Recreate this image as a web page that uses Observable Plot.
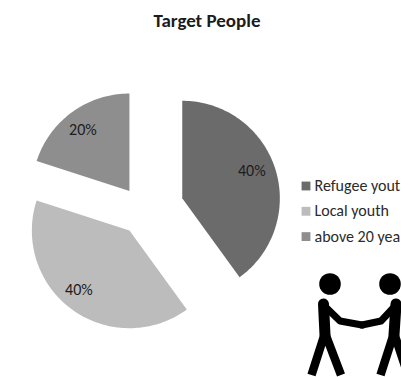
<!DOCTYPE html>
<html>
<head>
<meta charset="utf-8">
<script src="https://cdn.jsdelivr.net/npm/d3@7"></script>
<script src="https://cdn.jsdelivr.net/npm/@observablehq/plot@0.6"></script>
<style>
  html, body { margin: 0; padding: 0; background: #fff; }
  svg { display: block; }
</style>
</head>
<body>
<div id="chart"></div>
<script>
const title = "Target People";
const categories = ["Refugee yout", "Local youth", "above 20 yea"];
const shares = [40, 40, 20];
const explode = [0.414, 0.25, 0.25];
const greys = ["#6b6b6b", "#bcbcbc", "#8e8e8e"];

const width = 401, height = 377;
const fontFamily = "Carlito, Calibri, Lato, 'Open Sans', sans-serif";

// The pie lives in units of its own radius; these place that unit circle on the page.
const radius = 97.6, centerX = 143.3, centerY = 210.35;
const unitX = px => (px - centerX) / radius;
const unitY = py => (centerY - py) / radius;

const arcs = d3.pie().sort(null).value(d => d)(shares);

const polar = (angle, r) => [r * Math.sin(angle), r * Math.cos(angle)];

// Each wedge is a closed outline: tip, sampled rim, tip again.
const outlines = arcs.flatMap((a, i) => {
  const [ox, oy] = polar((a.startAngle + a.endAngle) / 2, explode[i]);
  const steps = Math.ceil((a.endAngle - a.startAngle) * 40);
  const rim = d3.range(steps + 1).map(k => polar(a.startAngle + (a.endAngle - a.startAngle) * k / steps, 1));
  return [[0, 0], ...rim, [0, 0]].map(([x, y]) => ({ category: categories[i], x: x + ox, y: y + oy }));
});

// Percent labels sit at a fixed depth in each wedge, with a small hand nudge in pixels.
const labelNudgeX = [-1, -7, -3];
const labelNudgeY = [-5, -1, -1];
const labels = arcs.map((a, i) => {
  const mid = (a.startAngle + a.endAngle) / 2;
  const [ox, oy] = polar(mid, explode[i] + 0.76);
  return { x: ox, y: oy, dx: labelNudgeX[i], dy: labelNudgeY[i], text: `${shares[i]}%` };
});

const legend = categories.map((category, i) => ({
  category,
  x: unitX(305.5),
  textX: unitX(314),
  y: unitY(185.5 + i * 25.3)
}));

// Two stick figures shaking hands, bottom right of the page.
function handshake() {
  const g = d3.create("svg:g").attr("fill", "none").attr("stroke", "#000").attr("stroke-linejoin", "round");
  const figure = (headX, shoulderX, hipX, elbowX, elbowY, footA, footB) => {
    g.append("circle").attr("cx", headX).attr("cy", 284).attr("r", 10.8).attr("fill", "#000").attr("stroke", "none");
    g.append("path").attr("stroke-width", 11).attr("stroke-linecap", "round")
      .attr("d", `M${shoulderX},304L${hipX},335`);
    g.append("path").attr("stroke-width", 7).attr("stroke-linecap", "round")
      .attr("d", `M${shoulderX},305L${elbowX},${elbowY}L362,325`);
    g.append("path").attr("stroke-width", 8.5)
      .attr("d", `M${footA},375L${hipX},333L${footB},375`);
  };
  figure(330, 323.5, 325, 340, 321, 311.5, 341);
  figure(390, 396, 394, 381, 321, 380.5, 408);
  return g.node();
}

const chart = Plot.plot({
  width, height,
  margin: 0,
  style: { background: "#fff", fontFamily },
  x: { axis: null, domain: [unitX(0), unitX(width)], range: [0, width] },
  y: { axis: null, domain: [unitY(0), unitY(height)], range: [0, height] },
  color: { domain: categories, range: greys },
  marks: [
    Plot.line(outlines, { x: "x", y: "y", z: "category", fill: "category", stroke: null }),
    ...labels.map(l => Plot.text([l], { x: "x", y: "y", text: "text", dx: l.dx, dy: l.dy, fontSize: 16, fill: "#1c1c1c" })),
    Plot.dot(legend, { x: "x", y: "y", fill: "category", symbol: "square", r: 5 }),
    Plot.text(legend, { x: "textX", y: "y", text: "category", textAnchor: "start", fontSize: 16, fill: "#2b2b2b" }),
    Plot.text([title], { frameAnchor: "top", dx: 6, dy: 13, fontSize: 19, fontWeight: "bold", fill: "#1c1c1c" }),
    handshake
  ]
});
document.getElementById("chart").append(chart);
</script>
</body>
</html>
